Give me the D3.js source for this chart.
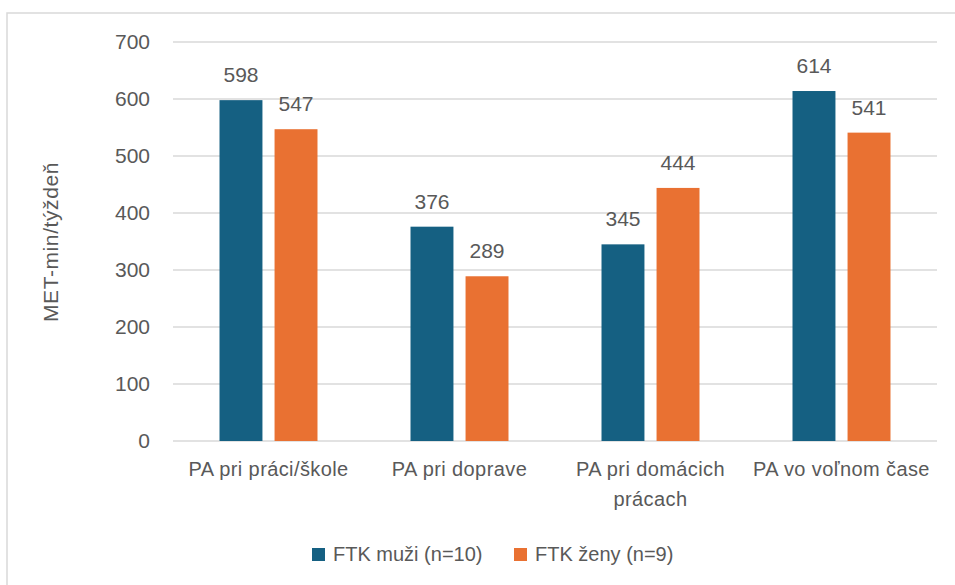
<!DOCTYPE html>
<html>
<head>
<meta charset="utf-8">
<script src="https://cdn.jsdelivr.net/npm/d3@7"></script>
<style>
  body { margin: 0; background: #fff; }
  text { font-family: "Liberation Sans", Arial, sans-serif; fill: #595959; }
</style>
</head>
<body>
<div id="chart"></div>
<script>
const categories = [["PA pri práci/škole"], ["PA pri doprave"], ["PA pri domácich", "prácach"], ["PA vo voľnom čase"]];
const seriesNames = ["FTK muži (n=10)", "FTK ženy (n=9)"];
const muzi = [598, 376, 345, 614];
const zeny = [547, 289, 444, 541];
const yTicks = [0, 100, 200, 300, 400, 500, 600, 700];
const colors = ["#156082", "#e97132"];

const W = 955, H = 585;
const plot = {left: 173, right: 937, top: 42, bottom: 441};

const svg = d3.select("#chart").append("svg")
    .attr("width", W).attr("height", H);

// frame (only top and left edge visible)
svg.append("path")
    .attr("d", `M7,${H} L7,13 L${W},13`)
    .attr("fill", "none").attr("stroke", "#d9d9d9").attr("stroke-width", 1.5);

const catKeys = categories.map(c => c.join(" "));
const x0 = d3.scaleBand().domain(catKeys).range([plot.left, plot.right])
    .paddingInner(0.487).paddingOuter(0.2435);
const x1 = d3.scaleBand().domain(seriesNames).range([0, x0.bandwidth()]).paddingInner(0.22);
const y = d3.scaleLinear().domain([0, 700]).range([plot.bottom, plot.top]);
const color = d3.scaleOrdinal().domain(seriesNames).range(colors);

// gridlines
svg.append("g").selectAll("line")
    .data(yTicks).enter().append("line")
    .attr("x1", plot.left).attr("x2", plot.right)
    .attr("y1", d => y(d)).attr("y2", d => y(d))
    .attr("stroke", "#d9d9d9").attr("stroke-width", 1.5);

// y tick labels
svg.append("g").selectAll("text")
    .data(yTicks).enter().append("text")
    .attr("x", 150).attr("y", d => y(d) + 7)
    .attr("text-anchor", "end")
    .style("font-size", "21px")
    .text(d => d);

// y title
svg.append("text")
    .attr("transform", "translate(58,242) rotate(-90)")
    .attr("text-anchor", "middle")
    .style("font-size", "21px")
    .style("letter-spacing", "0.6px")
    .text("MET-min/týždeň");

const rows = catKeys.map((k, i) => ({cat: k, values: [
    {name: seriesNames[0], v: muzi[i]},
    {name: seriesNames[1], v: zeny[i]}
]}));

const groups = svg.selectAll(".cat")
    .data(rows).enter().append("g")
    .attr("transform", d => `translate(${x0(d.cat)},0)`);

groups.selectAll("rect")
    .data(d => d.values).enter().append("rect")
    .attr("x", d => x1(d.name))
    .attr("y", d => y(d.v))
    .attr("width", x1.bandwidth())
    .attr("height", d => y(0) - y(d.v))
    .attr("fill", d => color(d.name));

groups.selectAll(".lbl")
    .data(d => d.values).enter().append("text")
    .attr("x", d => x1(d.name) + x1.bandwidth() / 2)
    .attr("y", d => y(d.v) - 18)
    .attr("text-anchor", "middle")
    .style("font-size", "21px")
    .text(d => d.v);

// category labels
categories.forEach((lines, i) => {
    const cx = x0(catKeys[i]) + x0.bandwidth() / 2;
    lines.forEach((ln, j) => {
        svg.append("text")
            .attr("x", cx).attr("y", 476 + j * 30)
            .attr("text-anchor", "middle")
            .style("font-size", "20px")
            .style("letter-spacing", "0.4px")
            .text(ln);
    });
});

// legend
const legendX = [312, 514];
seriesNames.forEach((s, i) => {
    svg.append("rect")
        .attr("x", legendX[i]).attr("y", 548)
        .attr("width", 13).attr("height", 13)
        .attr("fill", color(s));
    svg.append("text")
        .attr("x", legendX[i] + 21).attr("y", 561)
        .style("font-size", "20px")
        .text(s);
});
</script>
</body>
</html>
